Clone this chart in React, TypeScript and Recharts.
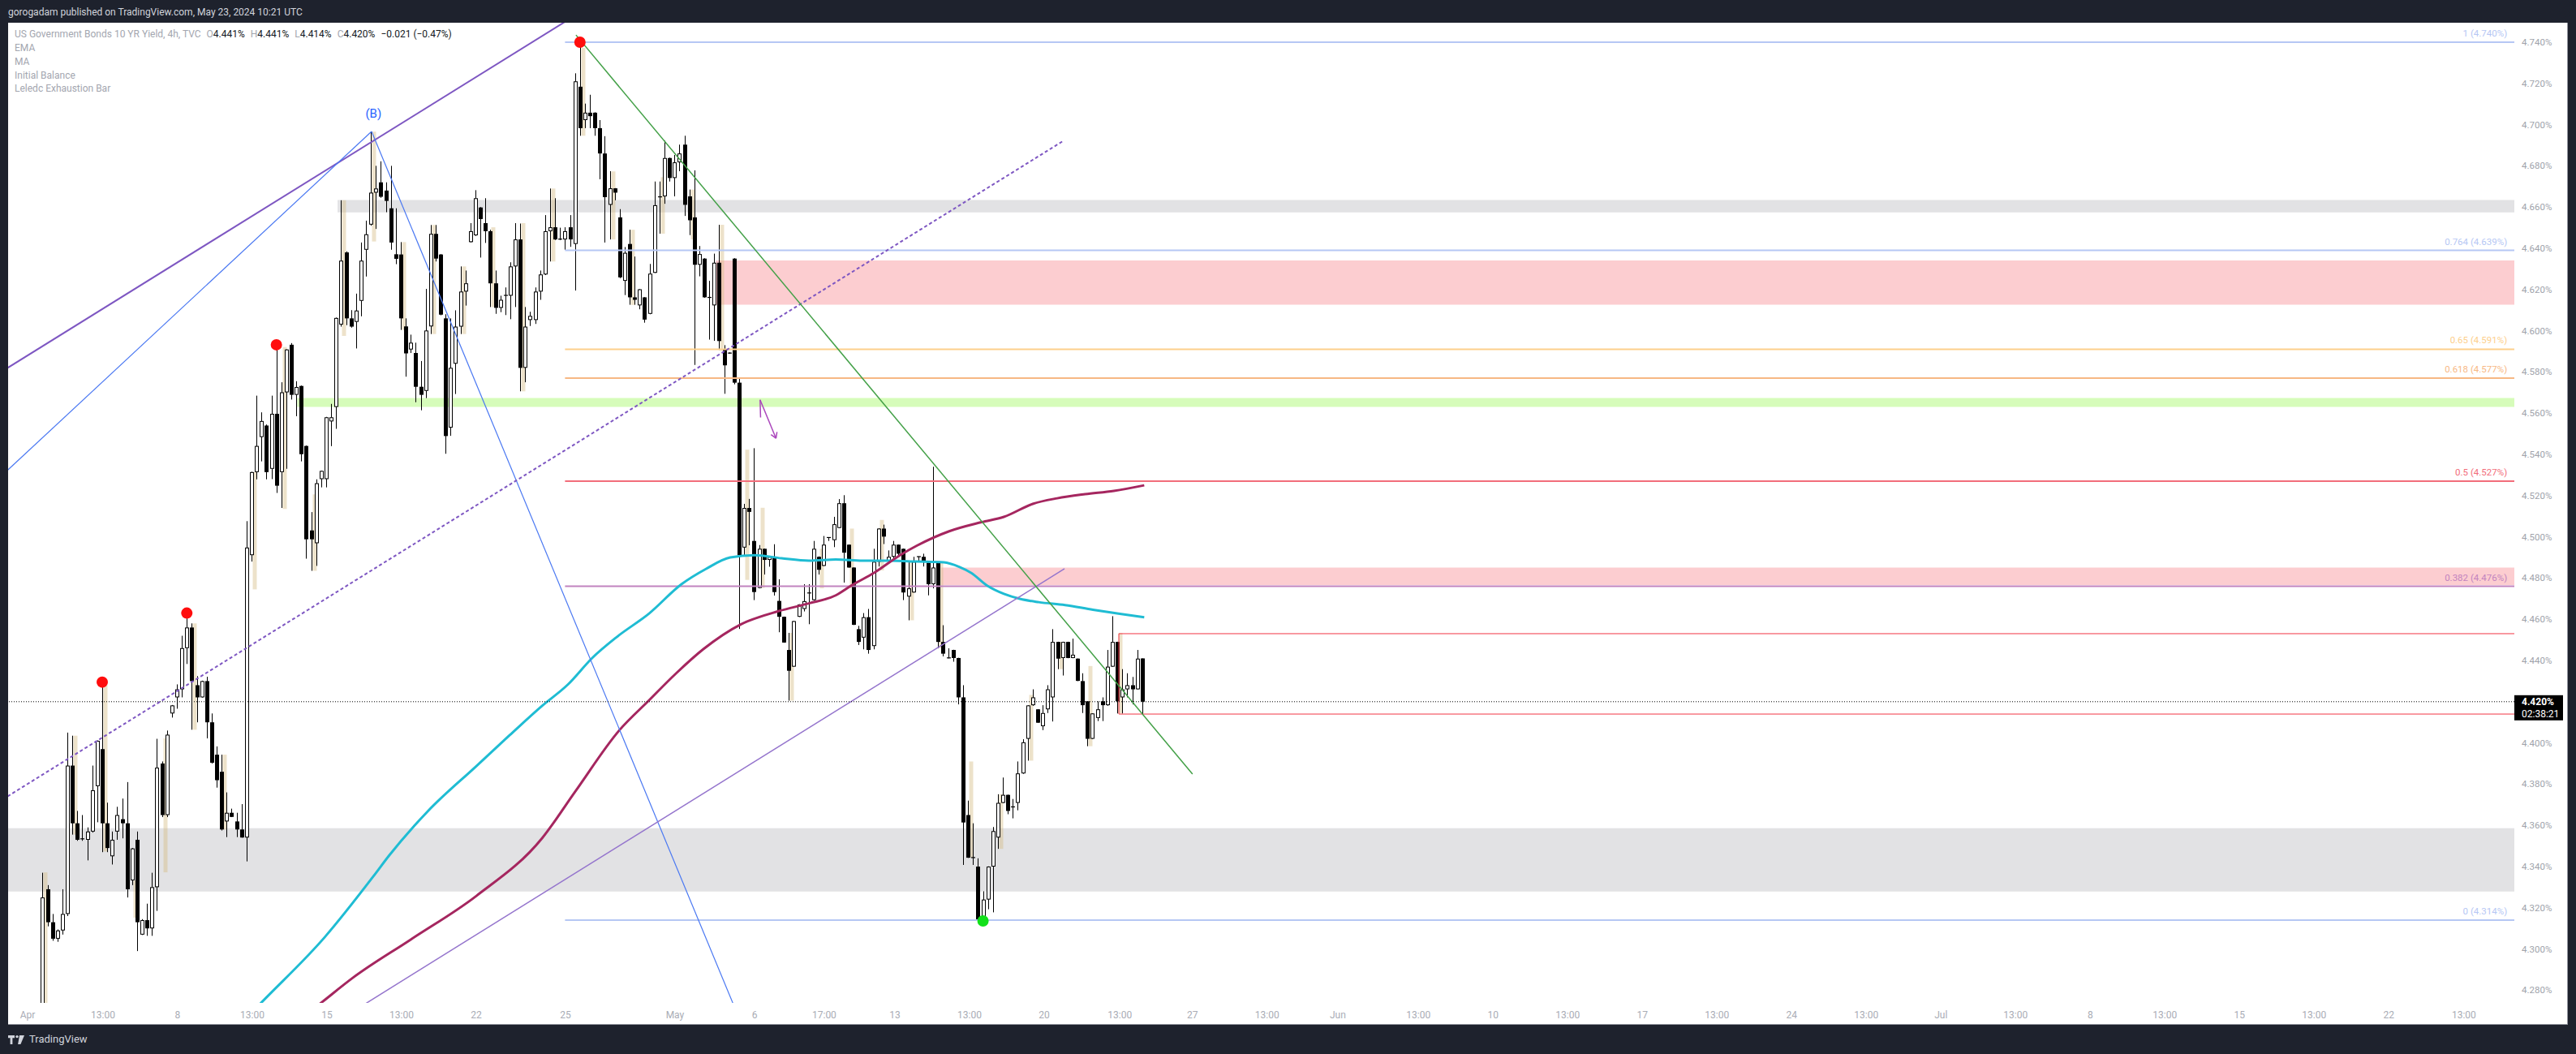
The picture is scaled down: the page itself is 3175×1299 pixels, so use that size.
import React from 'react';
import { ComposedChart, Bar, Line, Scatter, XAxis, YAxis, ReferenceLine, ReferenceArea } from 'recharts';

// ---------------- data ----------------
const FIRST_INDEX = 3;
// [open, high, low, close] for 4h bars, index FIRST_INDEX..224
const OHLC: number[][] = [
  [4.270, 4.337, 4.266, 4.325], [4.329, 4.331, 4.311, 4.313], [4.313, 4.317, 4.304, 4.305], [4.305, 4.3095, 4.3035, 4.309],
  [4.309, 4.329, 4.307, 4.317], [4.317, 4.405, 4.316, 4.389], [4.389, 4.4035, 4.3555, 4.361], [4.361, 4.367, 4.3525, 4.353],
  [4.353, 4.365, 4.3525, 4.3535], [4.353, 4.359, 4.343, 4.357], [4.357, 4.389, 4.3565, 4.377], [4.379, 4.4012, 4.3615, 4.401],
  [4.397, 4.4295, 4.347, 4.361], [4.361, 4.371, 4.347, 4.349], [4.345, 4.357, 4.341, 4.353], [4.357, 4.369, 4.353, 4.365],
  [4.363, 4.373, 4.3537, 4.361], [4.361, 4.381, 4.325, 4.329], [4.3333, 4.349, 4.331, 4.3488], [4.353, 4.357, 4.299, 4.313],
  [4.307, 4.3145, 4.3068, 4.314], [4.314, 4.322, 4.3064, 4.310], [4.310, 4.337, 4.3064, 4.330], [4.330, 4.402, 4.3185, 4.388],
  [4.390, 4.391, 4.364, 4.365], [4.365, 4.406, 4.364, 4.404], [4.4143, 4.4184, 4.4123, 4.4182], [4.4221, 4.4284, 4.4166, 4.426],
  [4.426, 4.452, 4.4221, 4.446], [4.446, 4.463, 4.4383, 4.456], [4.456, 4.458, 4.4064, 4.430], [4.428, 4.4324, 4.410, 4.4221],
  [4.4221, 4.4302, 4.422, 4.430], [4.430, 4.4321, 4.4022, 4.410], [4.410, 4.4143, 4.390, 4.3904], [4.3943, 4.3983, 4.3783, 4.3819],
  [4.386, 4.3943, 4.3575, 4.358], [4.3619, 4.376, 4.3543, 4.3661], [4.3661, 4.3681, 4.364, 4.3641], [4.3619, 4.3661, 4.3543, 4.358],
  [4.358, 4.3703, 4.354, 4.3541], [4.3541, 4.5076, 4.3425, 4.4948], [4.4911, 4.5316, 4.488, 4.5314], [4.5314, 4.5685, 4.5279, 4.5441],
  [4.5484, 4.5604, 4.5366, 4.5562], [4.554, 4.5545, 4.5279, 4.5314], [4.533, 4.5685, 4.528, 4.5597], [4.5597, 4.5932, 4.5213, 4.5248],
  [4.5314, 4.575, 4.514, 4.5701], [4.5701, 4.591, 4.533, 4.5909], [4.5932, 4.594, 4.5666, 4.5689], [4.5689, 4.5755, 4.5585, 4.5727],
  [4.5732, 4.5734, 4.5366, 4.5401], [4.5441, 4.5443, 4.4894, 4.4988], [4.5031, 4.512, 4.4835, 4.4988], [4.4969, 4.5279, 4.4859, 4.526],
  [4.528, 4.5321, 4.524, 4.532], [4.528, 4.5582, 4.524, 4.558], [4.556, 4.5645, 4.544, 4.558], [4.563, 4.6064, 4.5524, 4.6062],
  [4.603, 4.6633, 4.602, 4.634], [4.638, 4.6385, 4.6027, 4.606], [4.606, 4.610, 4.6015, 4.602], [4.6043, 4.618, 4.5914, 4.6098],
  [4.6145, 4.6428, 4.607, 4.634], [4.6393, 4.6534, 4.6263, 4.6468], [4.6515, 4.6966, 4.651, 4.667], [4.667, 4.680, 4.6494, 4.669],
  [4.672, 4.6822, 4.6645, 4.665], [4.668, 4.672, 4.6575, 4.663], [4.6594, 4.680, 4.6393, 4.6428], [4.6371, 4.6594, 4.6323, 4.6349],
  [4.637, 4.643, 4.6004, 4.606], [4.6021, 4.606, 4.5777, 4.589], [4.5909, 4.5981, 4.5892, 4.5942], [4.5892, 4.5942, 4.5653, 4.5728],
  [4.5728, 4.5853, 4.5614, 4.5689], [4.5708, 4.6203, 4.5673, 4.6001], [4.6021, 4.6513, 4.5984, 4.647], [4.647, 4.6513, 4.6336, 4.635],
  [4.637, 4.6372, 4.6075, 4.6078], [4.606, 4.608, 4.5403, 4.5489], [4.553, 4.606, 4.549, 4.582], [4.584, 4.6099, 4.5693, 4.602],
  [4.602, 4.6312, 4.5984, 4.619], [4.619, 4.6292, 4.6122, 4.623], [4.643, 4.6522, 4.6428, 4.6483], [4.6463, 4.6682, 4.646, 4.6643],
  [4.6598, 4.660, 4.6355, 4.6542], [4.6522, 4.6643, 4.6426, 4.6483], [4.6483, 4.649, 4.6115, 4.623], [4.623, 4.6292, 4.6082, 4.6111],
  [4.6111, 4.617, 4.609, 4.615], [4.617, 4.621, 4.6076, 4.6172], [4.617, 4.6332, 4.6056, 4.6312], [4.6312, 4.6522, 4.6115, 4.6443],
  [4.6443, 4.652, 4.5706, 4.582], [4.582, 4.6115, 4.575, 4.602], [4.6052, 4.6092, 4.6023, 4.6072], [4.6052, 4.621, 4.6033, 4.619],
  [4.619, 4.6292, 4.615, 4.6273], [4.6273, 4.6561, 4.627, 4.6483], [4.6483, 4.669, 4.6336, 4.6502], [4.6502, 4.6643, 4.644, 4.6443],
  [4.6443, 4.650, 4.644, 4.6445], [4.6443, 4.6502, 4.6393, 4.6483], [4.6502, 4.6561, 4.6407, 4.6443], [4.6421, 4.7249, 4.6195, 4.721],
  [4.7184, 4.740, 4.6946, 4.6983], [4.7022, 4.7102, 4.6983, 4.7058], [4.7058, 4.7145, 4.6983, 4.7041], [4.7058, 4.706, 4.6946, 4.6983],
  [4.6983, 4.7022, 4.6735, 4.686], [4.686, 4.6944, 4.6428, 4.6648], [4.6611, 4.6774, 4.6443, 4.6691], [4.6691, 4.6692, 4.6633, 4.667],
  [4.655, 4.659, 4.6255, 4.6259], [4.6242, 4.6406, 4.6173, 4.6378], [4.6421, 4.649, 4.6126, 4.6162], [4.6162, 4.636, 4.6126, 4.615],
  [4.6123, 4.6202, 4.6104, 4.6201], [4.6162, 4.6163, 4.6039, 4.6054], [4.6082, 4.6324, 4.608, 4.6277], [4.6281, 4.6724, 4.628, 4.6609],
  [4.6648, 4.6724, 4.6471, 4.665], [4.6652, 4.6922, 4.6616, 4.6838], [4.6838, 4.684, 4.6724, 4.6741], [4.6741, 4.6853, 4.6652, 4.6817],
  [4.6817, 4.6903, 4.6774, 4.686], [4.6903, 4.6946, 4.6557, 4.6611], [4.6652, 4.6685, 4.6464, 4.6536], [4.655, 4.6778, 4.5834, 4.632],
  [4.632, 4.6411, 4.6264, 4.6372], [4.635, 4.6352, 4.616, 4.6162], [4.6162, 4.6242, 4.5957, 4.616], [4.6123, 4.6374, 4.5951, 4.633],
  [4.633, 4.6514, 4.5907, 4.595], [4.591, 4.593, 4.5694, 4.5832], [4.5892, 4.5895, 4.5888, 4.5892], [4.635, 4.6352, 4.574, 4.5748],
  [4.5748, 4.5774, 4.4553, 4.491], [4.4948, 4.516, 4.4905, 4.514], [4.514, 4.5184, 4.4959, 4.5121], [4.498, 4.543, 4.4693, 4.4732],
  [4.4752, 4.496, 4.475, 4.4942], [4.4942, 4.4943, 4.4817, 4.4888], [4.4888, 4.4905, 4.4855, 4.4903], [4.4903, 4.4964, 4.4715, 4.4732],
  [4.4689, 4.4794, 4.4537, 4.4612], [4.4612, 4.4613, 4.4486, 4.4487], [4.4451, 4.4534, 4.4205, 4.435], [4.437, 4.4592, 4.4369, 4.4591],
  [4.4612, 4.4673, 4.4611, 4.4672], [4.465, 4.477, 4.4638, 4.4688], [4.4727, 4.477, 4.4576, 4.4728], [4.4693, 4.498, 4.469, 4.4942],
  [4.4903, 4.4905, 4.4817, 4.484], [4.4859, 4.5004, 4.4858, 4.4962], [4.4996, 4.4998, 4.498, 4.4997], [4.4984, 4.5097, 4.495, 4.5061],
  [4.5043, 4.5183, 4.5042, 4.5163], [4.5163, 4.5202, 4.4778, 4.4923], [4.4962, 4.4963, 4.485, 4.4851], [4.4851, 4.4852, 4.4572, 4.4573],
  [4.4552, 4.4568, 4.4475, 4.449], [4.4511, 4.463, 4.4454, 4.461], [4.461, 4.465, 4.4433, 4.4451], [4.447, 4.4942, 4.4454, 4.4879],
  [4.4879, 4.5042, 4.4856, 4.504], [4.504, 4.5059, 4.4965, 4.5001], [4.4883, 4.4934, 4.488, 4.4903], [4.4903, 4.498, 4.4887, 4.4962],
  [4.4962, 4.4963, 4.491, 4.4918], [4.4942, 4.4943, 4.4693, 4.473], [4.471, 4.488, 4.4595, 4.475], [4.473, 4.4903, 4.4729, 4.4879],
  [4.4903, 4.4905, 4.4879, 4.4904], [4.4903, 4.4918, 4.4856, 4.4879], [4.4875, 4.4876, 4.4716, 4.477], [4.477, 4.534, 4.475, 4.4851],
  [4.4879, 4.488, 4.4459, 4.449], [4.449, 4.4571, 4.442, 4.4433], [4.4412, 4.4459, 4.441, 4.4413], [4.4451, 4.4452, 4.4394, 4.4412],
  [4.4412, 4.4413, 4.4187, 4.4221], [4.4221, 4.428, 4.3408, 4.3614], [4.365, 4.372, 4.3442, 4.3443], [4.3443, 4.361, 4.3408, 4.3444],
  [4.340, 4.344, 4.3136, 4.3137], [4.3148, 4.328, 4.3136, 4.324], [4.324, 4.3401, 4.3193, 4.340], [4.340, 4.3592, 4.3178, 4.3572],
  [4.3541, 4.3751, 4.3486, 4.3709], [4.3709, 4.3832, 4.3708, 4.3748], [4.3748, 4.3749, 4.3654, 4.367], [4.3689, 4.3728, 4.3634, 4.369],
  [4.3709, 4.391, 4.3673, 4.3852], [4.3852, 4.4018, 4.385, 4.4003], [4.402, 4.4183, 4.3914, 4.4182], [4.4183, 4.426, 4.418, 4.4221],
  [4.4163, 4.4164, 4.4097, 4.4098], [4.4081, 4.4183, 4.4062, 4.4145], [4.4163, 4.428, 4.4145, 4.426], [4.4221, 4.4552, 4.4104, 4.449],
  [4.449, 4.4491, 4.4358, 4.4409], [4.4412, 4.4491, 4.4327, 4.449], [4.449, 4.4491, 4.4411, 4.4412], [4.4412, 4.4506, 4.4411, 4.4428],
  [4.4409, 4.441, 4.43, 4.4301], [4.43, 4.4338, 4.4145, 4.4183], [4.4202, 4.4203, 4.3984, 4.402], [4.402, 4.4144, 4.4019, 4.4143],
  [4.4121, 4.4202, 4.4106, 4.4163], [4.4202, 4.4221, 4.4106, 4.4183], [4.4183, 4.4451, 4.418, 4.437], [4.437, 4.4615, 4.4369, 4.449],
  [4.449, 4.4491, 4.4143, 4.4202], [4.4221, 4.4358, 4.4143, 4.426], [4.426, 4.4338, 4.4221, 4.428], [4.428, 4.432, 4.4187, 4.426],
  [4.426, 4.4451, 4.4259, 4.4409], [4.441, 4.441, 4.414, 4.420],
];

// Initial Balance highlight: [bar index, top, bottom]
const IB_RANGES: number[][] = [
  [3, 4.3372, 4.262], [9, 4.4035, 4.3555], [15, 4.4284, 4.3473], [21, 4.3333, 4.3152], [27, 4.4022, 4.3372],
  [33, 4.458, 4.4064], [39, 4.3943, 4.358], [45, 4.5314, 4.4745], [51, 4.5921, 4.5135], [57, 4.5206, 4.4835],
  [63, 4.6633, 4.5975], [69, 4.6966, 4.6433], [75, 4.643, 4.6004], [81, 4.6513, 4.5984], [87, 4.6312, 4.5984],
  [93, 4.6502, 4.6115], [99, 4.6522, 4.5706], [105, 4.669, 4.6336], [111, 4.7372, 4.6946], [117, 4.6773, 4.6443],
  [121, 4.649, 4.6125], [127, 4.6745, 4.6471], [133, 4.6685, 4.6443], [139, 4.6514, 4.5903], [144, 4.5423, 4.4791],
  [147, 4.5141, 4.4752], [153, 4.4534, 4.4205], [159, 4.4942, 4.475], [165, 4.504, 4.475], [171, 4.5082, 4.4837],
  [177, 4.4879, 4.4595], [183, 4.4879, 4.4459], [189, 4.391, 4.3443], [195, 4.3751, 4.3486], [201, 4.4233, 4.3914],
  [207, 4.449, 4.4358], [213, 4.4373, 4.3984], [219, 4.4534, 4.4143],
];

const EMA_POINTS: number[][] = [
  [44, 4.2666], [47.1, 4.2743], [59.7, 4.3057], [69.5, 4.3353], [72.7, 4.3455], [80.4, 4.3668], [90.2, 4.3888],
  [96.9, 4.4038], [103.4, 4.418], [108.6, 4.4284], [113.5, 4.4413], [118.4, 4.4514], [124.9, 4.4628], [131.4, 4.477],
  [136.3, 4.4844], [141.2, 4.49], [146.1, 4.4911], [151.5, 4.4896], [157, 4.4884], [162.4, 4.489], [167.8, 4.4884],
  [173.3, 4.4884], [178.7, 4.488], [184.1, 4.4876], [187.3, 4.4853], [189.6, 4.4825], [192.9, 4.4762], [196.2, 4.4723],
  [199.4, 4.4699], [203.2, 4.4683], [208.5, 4.4669], [214.1, 4.4646], [219.5, 4.4626], [224.4, 4.461],
];

const MA_POINTS: number[][] = [
  [56, 4.2682], [59.2, 4.2743], [65.4, 4.2861], [77, 4.3046], [90.2, 4.3258], [103.4, 4.3538], [110.1, 4.3766],
  [118.9, 4.4061], [124.9, 4.4207], [130.3, 4.4337], [135.8, 4.4455], [143.3, 4.4575], [151, 4.464], [157, 4.4677],
  [162.4, 4.4716], [165.7, 4.4766], [170.1, 4.4825], [175.4, 4.4912], [178.7, 4.4957], [185.2, 4.5027], [191.7, 4.5071],
  [196.2, 4.5097], [202, 4.516], [206.9, 4.5187], [212.5, 4.5207], [218.3, 4.5223], [224.4, 4.525],
];

const RED_DOTS: number[][] = [[15, 4.4295], [32, 4.463], [50, 4.5932], [111, 4.740]];
const GREEN_DOTS: number[][] = [[192, 4.3136]];

const FIB_START = 108;
const FIB_LEVELS = [
  { ratio: '1', value: 4.740, color: '#b6c7f4' },
  { ratio: '0.764', value: 4.639, color: '#b6c7f4' },
  { ratio: '0.65', value: 4.591, color: '#fdcf8c' },
  { ratio: '0.618', value: 4.577, color: '#f7b884' },
  { ratio: '0.5', value: 4.527, color: '#f26d7b' },
  { ratio: '0.382', value: 4.476, color: '#c283bf' },
  { ratio: '0', value: 4.314, color: '#b6c7f4' },
];

const ZONES = [
  { x1: 62.3, top: 4.6634, bottom: 4.6574, fill: 'rgba(20,25,40,0.125)' },
  { x1: -3.92, top: 4.3586, bottom: 4.3279, fill: 'rgba(20,25,40,0.125)' },
  { x1: 138.3, top: 4.6341, bottom: 4.6126, fill: 'rgba(242,54,69,0.25)' },
  { x1: 183.6, top: 4.4851, bottom: 4.4766, fill: 'rgba(242,54,69,0.25)' },
  { x1: 54.2, top: 4.5674, bottom: 4.5630, fill: 'rgba(120,245,25,0.3)' },
];

// trend-line drawings: [x1, y1, x2, y2]
const DRAWINGS = [
  { pts: [-5, 4.5805, 110, 4.7529], color: '#7e57c2', width: 2, dash: undefined },
  { pts: [-5, 4.5301, 69.13, 4.6967], color: '#4a78f2', width: 1.2, dash: undefined },
  { pts: [69.13, 4.6967, 145, 4.2547], color: '#4a78f2', width: 1.2, dash: undefined },
  { pts: [-5, 4.3726, 208.06, 4.692], color: '#7e57c2', width: 2, dash: '4 3' },
  { pts: [64, 4.2676, 208.38, 4.4845], color: '#9575cd', width: 1.5, dash: undefined },
  { pts: [110.2, 4.7435, 234.1, 4.3849], color: '#43a047', width: 1.5, dash: undefined },
  { pts: [147.2, 4.5665, 150.4, 4.5478], color: '#ab47bc', width: 1.5, dash: undefined },
  { pts: [147.2, 4.5665, 147.3, 4.5579], color: '#ab47bc', width: 1.5, dash: undefined },
  { pts: [150.4, 4.5478, 150.6, 4.5509], color: '#ab47bc', width: 1.5, dash: undefined },
  { pts: [150.4, 4.5478, 149.4, 4.5496], color: '#ab47bc', width: 1.5, dash: undefined },
];

const RANGE_BOX = { x1: 219.3, top: 4.453, bottom: 4.414, color: '#f23645' };
const WAVE_LABELS = [{ i: 69.5, v: 4.7054, text: '(B)' }];

const LAST = { open: 4.441, high: 4.441, low: 4.414, close: 4.420, change: '−0.021 (−0.47%)', countdown: '02:38:21' };

// 4.420% is hidden behind the last-price box in the reference
const PRICE_TICKS = [4.28, 4.30, 4.32, 4.34, 4.36, 4.38, 4.40, 4.44, 4.46, 4.48, 4.50, 4.52, 4.54, 4.56, 4.58, 4.60, 4.62, 4.64, 4.66, 4.68, 4.70, 4.72, 4.74];
const TIME_TICKS = [0, 15.16, 30.16, 45.17, 60.17, 75.17, 90.17, 108.1, 130.1, 146.1, 160.1, 174.3, 189.3, 204.3, 219.5, 234.1, 249.1, 263.3, 279.5, 294.5, 309.5, 324.5, 339.5, 354.5, 369.5, 384.5, 399.5, 414.5, 429.5, 444.5, 459.5, 474.5, 489.6];
const TIME_LABELS = ['Apr', '13:00', '8', '13:00', '15', '13:00', '22', '25', 'May', '6', '17:00', '13', '13:00', '20', '13:00', '27', '13:00', 'Jun', '13:00', '10', '13:00', '17', '13:00', '24', '13:00', 'Jul', '13:00', '8', '13:00', '15', '13:00', '22', '13:00'];

// ---------------- layout ----------------
const W = 3175;
const H = 1299;
const X_MIN = -3.913;
const X_MAX = 499.73;
const Y_MIN = 4.27386;
const Y_MAX = 4.74945;
const FONT = 'Roboto, "Noto Sans", sans-serif';
const FIB_LABEL_X = 498.29;

const ibMap: Record<number, number[]> = {};
IB_RANGES.forEach(([i, t, b]) => { ibMap[i] = [t, b]; });

const rows = OHLC.map(([o, h, l, c], k) => {
  const i = FIRST_INDEX + k;
  const hi = Math.max(h, o, c);
  const lo = Math.min(l, o, c);
  return { i, o, h: hi, l: lo, c, range: [lo, hi], ib: ibMap[i] };
});
const emaData = EMA_POINTS.map(([i, v]) => ({ i, v }));
const maData = MA_POINTS.map(([i, v]) => ({ i, v }));
const redData = RED_DOTS.map(([i, v]) => ({ i, v }));
const greenData = GREEN_DOTS.map(([i, v]) => ({ i, v }));
const fibLabelData = FIB_LEVELS.map((f) => ({ i: FIB_LABEL_X, v: f.value, text: `${f.ratio} (${f.value.toFixed(3)}%)`, color: f.color }));

const Candle = (props: any) => {
  const { x, y, width, height, payload } = props;
  if (!payload || typeof y !== 'number' || !isFinite(y) || !isFinite(height)) return null;
  const { o, h, l, c, ib } = payload;
  const top = Math.min(y, y + height);
  const pxH = Math.abs(height);
  const span = h - l;
  const k = span > 0 ? pxH / span : 0;
  const py = (p: number) => top + (h - p) * k;
  const cx = Math.round(x + width / 2);
  const yT = py(Math.max(o, c));
  const yB = py(Math.min(o, c));
  const bodyH = yB - yT;
  const up = c >= o;
  return (
    <g>
      {ib && (
        <rect x={cx + 1.5} y={py(ib[0])} width={5} height={Math.max(1, py(ib[1]) - py(ib[0]))} fill="rgba(212,185,128,0.42)" />
      )}
      <line x1={cx + 0.5} x2={cx + 0.5} y1={py(h)} y2={py(l)} stroke="#000" strokeWidth={1} />
      {bodyH < 1.5 ? (
        <rect x={cx - 2} y={yT - 0.5} width={5} height={1.2} fill="#000" />
      ) : up ? (
        <rect x={cx - 1.5} y={yT + 0.5} width={4} height={bodyH - 1} fill="#fff" stroke="#000" strokeWidth={1} />
      ) : (
        <rect x={cx - 2} y={yT} width={5} height={bodyH} fill="#000" />
      )}
    </g>
  );
};

const RedDot = (props: any) => <circle cx={props.cx} cy={props.cy} r={7} fill="#ff0d0d" />;
const GreenDot = (props: any) => <circle cx={props.cx} cy={props.cy} r={7} fill="#12e01a" />;
const FibText = (props: any) => (
  <text x={props.cx} y={props.cy - 7} textAnchor="end" fill={props.payload.color} fontSize={11.5} fontFamily={FONT}>
    {props.payload.text}
  </text>
);
const WaveText = (props: any) => (
  <text x={props.cx} y={props.cy} textAnchor="middle" dominantBaseline="central" fill="#2962ff" fontSize={15} fontFamily={FONT}>
    {props.payload.text}
  </text>
);

const PriceBox = (props: any) => {
  const vb = props.viewBox || {};
  const right = (vb.x || 0) + (vb.width || 0);
  const y = vb.y || 0;
  return (
    <g>
      <rect x={right} y={y - 8} width={60} height={31} fill="#000" />
      <text x={right + 9} y={y + 4.5} fill="#fff" fontSize={12} fontWeight={700} fontFamily={FONT}>{LAST.close.toFixed(3)}%</text>
      <text x={right + 9} y={y + 19.5} fill="#fff" fontSize={12} fontFamily={FONT}>{LAST.countdown}</text>
    </g>
  );
};

const TVLogo = () => (
  <svg width="22" height="13" viewBox="0 0 22 13" style={{ display: 'inline-block', verticalAlign: 'middle', marginRight: 4 }}>
    <path d="M0 1h8v3.2H5.4V12H2.6V4.2H0z" fill="#d1d4dc" />
    <circle cx="11" cy="2.6" r="1.7" fill="#d1d4dc" />
    <path d="M14 1h6l-4.6 11h-3.3z" fill="#d1d4dc" />
  </svg>
);

export default function App() {
  const gray = '#a3a6af';
  const dark = '#131722';
  return (
    <div style={{ position: 'absolute', left: 0, top: 0, width: W, height: H, background: '#1e222d', overflow: 'hidden', fontFamily: FONT }}>
      <div style={{ position: 'absolute', left: 10, top: 7, fontSize: 12, lineHeight: '16px', color: '#d1d4dc', whiteSpace: 'nowrap' }}>
        gorogadam published on TradingView.com, May 23, 2024 10:21 UTC
      </div>
      <div style={{ position: 'absolute', left: 10, top: 28, width: 3155, height: 1235, background: '#fff', borderRight: '1px solid #9598a1', borderBottom: '1px solid #9598a1', boxSizing: 'border-box' }} />
      <div style={{ position: 'absolute', left: 0, top: 0 }}>
        <ComposedChart width={W} height={H} data={rows} margin={{ top: 28, right: 10, bottom: 36, left: 10 }} style={{ fontFamily: FONT }}>
          <XAxis
            dataKey="i"
            type="number"
            domain={[X_MIN, X_MAX]}
            allowDataOverflow
            ticks={TIME_TICKS}
            interval={0}
            tickFormatter={(_v: any, idx: number) => TIME_LABELS[idx]}
            axisLine={false}
            tickLine={false}
            tickSize={0}
            tickMargin={10}
            height={27}
            tick={{ fill: '#a9acb5', fontSize: 12, fontFamily: FONT }}
          />
          <YAxis
            orientation="right"
            type="number"
            domain={[Y_MIN, Y_MAX]}
            allowDataOverflow
            ticks={PRICE_TICKS}
            interval={0}
            tickFormatter={(v: number) => `${v.toFixed(3)}%`}
            axisLine={false}
            tickLine={false}
            tickSize={0}
            tickMargin={9}
            width={66}
            tick={{ fill: '#a0a3ab', fontSize: 11.5, fontFamily: FONT }}
          />
          {ZONES.map((z, n) => (
            <ReferenceArea key={`z${n}`} x1={z.x1} x2={X_MAX} y1={z.bottom} y2={z.top} fill={z.fill} fillOpacity={1} stroke="none" ifOverflow="hidden" />
          ))}
          {FIB_LEVELS.map((f) => (
            <ReferenceLine key={`f${f.ratio}`} segment={[{ x: FIB_START, y: f.value }, { x: X_MAX, y: f.value }]} stroke={f.color} strokeWidth={2} ifOverflow="hidden" />
          ))}
          <ReferenceLine segment={[{ x: RANGE_BOX.x1, y: RANGE_BOX.top }, { x: X_MAX, y: RANGE_BOX.top }]} stroke={RANGE_BOX.color} strokeWidth={1} ifOverflow="hidden" />
          <ReferenceLine segment={[{ x: RANGE_BOX.x1, y: RANGE_BOX.bottom }, { x: X_MAX, y: RANGE_BOX.bottom }]} stroke={RANGE_BOX.color} strokeWidth={1} ifOverflow="hidden" />
          <ReferenceLine segment={[{ x: RANGE_BOX.x1, y: RANGE_BOX.bottom }, { x: RANGE_BOX.x1, y: RANGE_BOX.top }]} stroke={RANGE_BOX.color} strokeWidth={1} ifOverflow="hidden" />
          <Bar dataKey="range" barSize={5} shape={Candle} isAnimationActive={false} />
          <Line data={emaData} dataKey="v" type="monotone" stroke="#1fbcd3" strokeWidth={3} dot={false} activeDot={false} isAnimationActive={false} />
          <Line data={maData} dataKey="v" type="monotone" stroke="#a5265f" strokeWidth={3} dot={false} activeDot={false} isAnimationActive={false} />
          {DRAWINGS.map((d, n) => (
            <ReferenceLine
              key={`d${n}`}
              segment={[{ x: d.pts[0], y: d.pts[1] }, { x: d.pts[2], y: d.pts[3] }]}
              stroke={d.color}
              strokeWidth={d.width}
              strokeDasharray={d.dash}
              ifOverflow="hidden"
            />
          ))}
          <ReferenceLine y={LAST.close} stroke="#000" strokeWidth={1} strokeDasharray="1 2" label={PriceBox} />
          <Scatter data={redData} dataKey="v" shape={RedDot} isAnimationActive={false} />
          <Scatter data={greenData} dataKey="v" shape={GreenDot} isAnimationActive={false} />
          <Scatter data={fibLabelData} dataKey="v" shape={FibText} isAnimationActive={false} />
          <Scatter data={WAVE_LABELS} dataKey="v" shape={WaveText} isAnimationActive={false} />
        </ComposedChart>
      </div>
      <div style={{ position: 'absolute', left: 18, top: 34.3, fontSize: 12, lineHeight: '16.8px', color: gray, whiteSpace: 'nowrap' }}>
        <div>
          US Government Bonds 10 YR Yield, 4h, TVC
          <span style={{ marginLeft: 7 }}>O<span style={{ color: dark }}>{LAST.open.toFixed(3)}%</span></span>
          <span style={{ marginLeft: 7 }}>H<span style={{ color: dark }}>{LAST.high.toFixed(3)}%</span></span>
          <span style={{ marginLeft: 7 }}>L<span style={{ color: dark }}>{LAST.low.toFixed(3)}%</span></span>
          <span style={{ marginLeft: 7 }}>C<span style={{ color: dark }}>{LAST.close.toFixed(3)}%</span></span>
          <span style={{ marginLeft: 7, color: dark }}>{LAST.change}</span>
        </div>
        <div>EMA</div>
        <div>MA</div>
        <div>Initial Balance</div>
        <div>Leledc Exhaustion Bar</div>
      </div>
      <div style={{ position: 'absolute', left: 10, top: 1273, fontSize: 13, lineHeight: '16px', color: '#d1d4dc', whiteSpace: 'nowrap' }}>
        <TVLogo />TradingView
      </div>
    </div>
  );
}
